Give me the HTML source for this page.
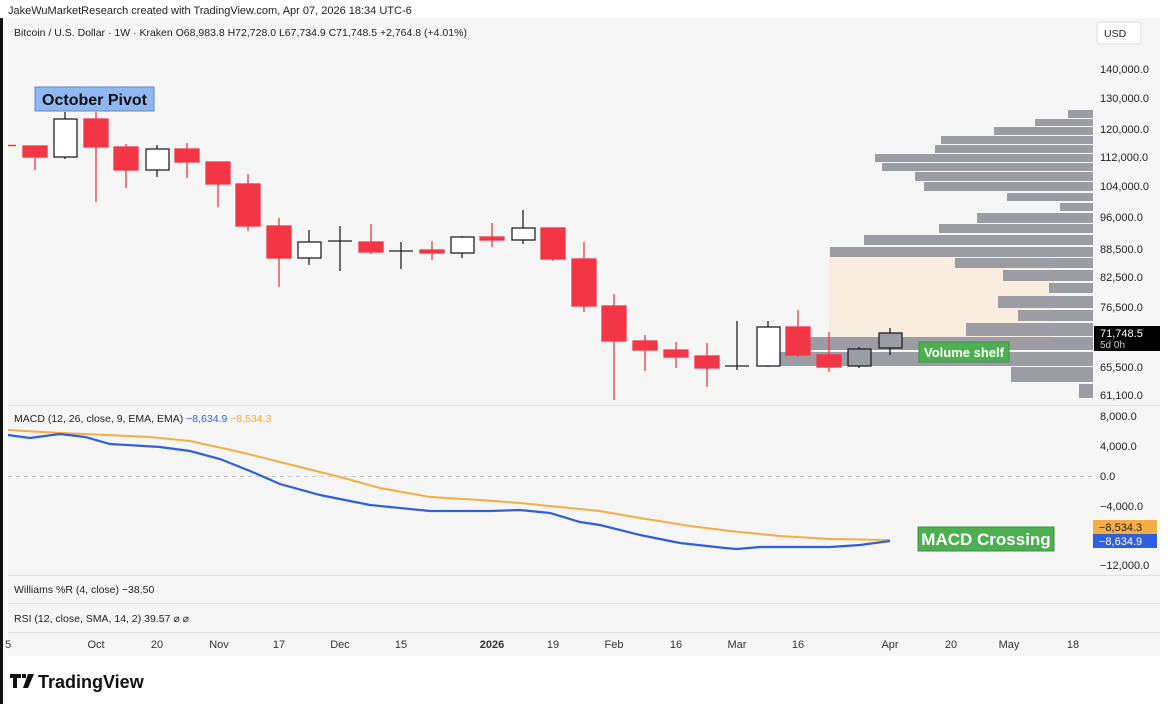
<!DOCTYPE html>
<html><head><meta charset="utf-8"><style>
html,body{margin:0;padding:0;background:#fff;width:1170px;height:704px;overflow:hidden}
svg{display:block}
text{font-family:"Liberation Sans",sans-serif}
</style></head><body>
<svg width="1170" height="704" viewBox="0 0 1170 704" xmlns="http://www.w3.org/2000/svg">
<rect x="0" y="0" width="1170" height="704" fill="#fff"/>
<rect x="0" y="18" width="3" height="686" fill="#111"/>
<text x="8" y="14" font-size="11" fill="#222">JakeWuMarketResearch created with TradingView.com, Apr 07, 2026 18:34 UTC-6</text>
<rect x="8" y="18" width="1152" height="638" fill="#f6f6f7"/>
<text x="14" y="36" font-size="10.5" fill="#222">Bitcoin / U.S. Dollar · 1W · Kraken  O68,983.8  H72,728.0  L67,734.9  C71,748.5  +2,764.8 (+4.01%)</text>
<rect x="1097" y="22" width="44" height="22" rx="3" fill="#fff" stroke="#ddd"/>
<text x="1104" y="37" font-size="10.5" fill="#222">USD</text>
<!-- separators -->
<g stroke="#e0e0e3" stroke-width="1">
<line x1="8" y1="405.5" x2="1160" y2="405.5"/>
<line x1="8" y1="575.5" x2="1160" y2="575.5"/>
<line x1="8" y1="603.5" x2="1160" y2="603.5"/>
<line x1="8" y1="632.5" x2="1160" y2="632.5"/>
</g>
<!-- beige zone -->
<rect x="829" y="247" width="225" height="90" fill="#f8eddf"/>
<!-- volume profile -->
<g fill="#9c9ca4">
<rect x="1068" y="110" width="25" height="8"/>
<rect x="1035" y="119" width="58" height="7"/>
<rect x="994" y="127" width="99" height="8"/>
<rect x="941" y="136" width="152" height="8"/>
<rect x="935" y="145" width="158" height="8"/>
<rect x="875" y="154" width="218" height="8"/>
<rect x="882" y="163" width="211" height="8"/>
<rect x="915" y="172" width="178" height="9"/>
<rect x="924" y="182" width="169" height="9"/>
<rect x="1007" y="193" width="86" height="8"/>
<rect x="1060" y="203" width="33" height="8"/>
<rect x="977" y="213" width="116" height="10"/>
<rect x="939" y="224" width="154" height="9"/>
<rect x="864" y="235" width="229" height="10"/>
<rect x="830" y="247" width="263" height="10"/>
<rect x="955" y="258" width="138" height="10"/>
<rect x="1003" y="270" width="90" height="11"/>
<rect x="1049" y="283" width="44" height="10"/>
<rect x="998" y="296" width="95" height="12"/>
<rect x="1018" y="310" width="75" height="11"/>
<rect x="966" y="323" width="127" height="13"/>
<rect x="810" y="337" width="283" height="13"/>
<rect x="770" y="352" width="323" height="14"/>
<rect x="1011" y="367" width="82" height="15"/>
<rect x="1079" y="384" width="14" height="14"/>
</g>
<!-- candles -->
<line x1="8" y1="145.5" x2="16" y2="145.5" stroke="#f23645" stroke-width="1.5"/>
<g id="c"></g>
<g stroke-width="1.3">
<!-- red candles: wick then body -->
<g stroke="#f23645" fill="#f23645">
<line x1="35" y1="146" x2="35" y2="170"/><rect x="23" y="146" width="24" height="11"/>
<line x1="96" y1="112" x2="96" y2="202"/><rect x="84" y="119" width="24" height="28"/>
<line x1="126" y1="144" x2="126" y2="188"/><rect x="114" y="147" width="24" height="23"/>
<line x1="187" y1="143" x2="187" y2="178"/><rect x="175" y="149" width="24" height="13"/>
<line x1="218" y1="162" x2="218" y2="207"/><rect x="206" y="162" width="24" height="22"/>
<line x1="248" y1="174" x2="248" y2="231"/><rect x="236" y="184" width="24" height="42"/>
<line x1="279" y1="218" x2="279" y2="287"/><rect x="267" y="226" width="24" height="32"/>
<line x1="371" y1="224" x2="371" y2="254"/><rect x="359" y="242" width="24" height="10"/>
<line x1="432" y1="241" x2="432" y2="260"/><rect x="420" y="250" width="24" height="3"/>
<line x1="492" y1="223" x2="492" y2="247"/><rect x="480" y="237" width="24" height="3"/>
<line x1="553" y1="228" x2="553" y2="261"/><rect x="541" y="228" width="24" height="31"/>
<line x1="584" y1="242" x2="584" y2="312"/><rect x="572" y="259" width="24" height="47"/>
<line x1="614" y1="294" x2="614" y2="400"/><rect x="602" y="306" width="24" height="35"/>
<line x1="645" y1="335" x2="645" y2="371"/><rect x="633" y="341" width="24" height="9"/>
<line x1="676" y1="342" x2="676" y2="368"/><rect x="664" y="350" width="24" height="7"/>
<line x1="707" y1="343" x2="707" y2="387"/><rect x="695" y="356" width="24" height="12"/>
<line x1="798" y1="310" x2="798" y2="357"/><rect x="786" y="327" width="24" height="28"/>
<line x1="829" y1="332" x2="829" y2="372"/><rect x="817" y="355" width="24" height="12"/>
</g>
<g stroke="#222" fill="#fff">
<line x1="65" y1="112" x2="65" y2="159"/><rect x="54" y="119" width="23" height="38"/>
<line x1="157" y1="145" x2="157" y2="177"/><rect x="146" y="149" width="23" height="21"/>
<line x1="309" y1="230" x2="309" y2="265"/><rect x="298" y="242" width="23" height="16"/>
<line x1="340" y1="226" x2="340" y2="271"/><line x1="328" y1="241" x2="352" y2="241"/>
<line x1="401" y1="242" x2="401" y2="269"/><line x1="389" y1="251" x2="413" y2="251"/>
<line x1="462" y1="236" x2="462" y2="258"/><rect x="451" y="237" width="23" height="16"/>
<line x1="523" y1="210" x2="523" y2="244"/><rect x="512" y="228" width="23" height="12"/>
<line x1="737" y1="321" x2="737" y2="370"/><line x1="725" y1="366" x2="749" y2="366"/>
<line x1="768" y1="321" x2="768" y2="367"/><rect x="757" y="327" width="23" height="39"/>
<line x1="859" y1="347" x2="859" y2="368"/><rect x="848" y="349" width="23" height="17" fill="#9c9ca4"/>
<line x1="890" y1="328" x2="890" y2="355"/><rect x="879" y="333" width="23" height="15" fill="#9c9ca4"/>
</g>
</g>
<!-- annotations -->
<rect x="35" y="87" width="119" height="24" fill="#8fb8f2" stroke="#5a87c8"/>
<text x="94.5" y="105" font-size="16" font-weight="bold" fill="#111" text-anchor="middle">October Pivot</text>
<rect x="919" y="342" width="90" height="20" fill="#4caf50" stroke="#3d9142"/>
<text x="964" y="357" font-size="13" font-weight="bold" fill="#fff" text-anchor="middle">Volume shelf</text>
<!-- price axis -->
<g font-size="11" fill="#222">
<text x="1100" y="73">140,000.0</text>
<text x="1100" y="102">130,000.0</text>
<text x="1100" y="133">120,000.0</text>
<text x="1100" y="161">112,000.0</text>
<text x="1100" y="190">104,000.0</text>
<text x="1100" y="221">96,000.0</text>
<text x="1100" y="253">88,500.0</text>
<text x="1100" y="281">82,500.0</text>
<text x="1100" y="311">76,500.0</text>
<text x="1100" y="371">65,500.0</text>
<text x="1100" y="399">61,100.0</text>
</g>
<rect x="1094" y="326" width="66" height="25" fill="#000"/>
<text x="1100" y="337" font-size="11" fill="#fff">71,748.5</text>
<text x="1100" y="348" font-size="10" fill="#ccc">5d 0h</text>
<!-- MACD -->
<text x="14" y="422" font-size="10.5" fill="#222">MACD (12, 26, close, 9, EMA, EMA) <tspan fill="#2962ff">−8,634.9</tspan> <tspan fill="#f7a73b">−8,534.3</tspan></text>
<line x1="8" y1="476.5" x2="1093" y2="476.5" stroke="#c8c8cc" stroke-dasharray="4,4"/>
<polyline fill="none" stroke="#f7ad45" stroke-width="2" points="8,430 60,433 85,434 150,437 190,441 240,452 300,467 340,477 380,488 430,497 480,500 520,503 560,507 600,511 640,518 690,526 730,531 780,536 830,539 890,540"/>
<polyline fill="none" stroke="#2f5fe0" stroke-width="2.2" points="8,435 30,438 60,434 85,437 110,444 160,447 190,451 220,459 250,471 280,484 320,495 370,505 430,511 490,511 520,510 550,513 580,522 600,525 640,535 680,543 725,548 737,549 760,547 800,547 830,547 860,545 890,541"/>
<rect x="918" y="527" width="136" height="24" fill="#4caf50" stroke="#3d9142"/>
<text x="986" y="545" font-size="17" font-weight="bold" fill="#fff" text-anchor="middle">MACD Crossing</text>
<g font-size="11" fill="#222">
<text x="1100" y="420">8,000.0</text>
<text x="1100" y="450">4,000.0</text>
<text x="1100" y="480">0.0</text>
<text x="1100" y="510">−4,000.0</text>
<text x="1100" y="569">−12,000.0</text>
</g>
<rect x="1093" y="520" width="64" height="14" fill="#f7ad45"/>
<text x="1099" y="531" font-size="11" fill="#222">−8,534.3</text>
<rect x="1093" y="534" width="64" height="14" fill="#2f5fe0"/>
<text x="1099" y="545" font-size="11" fill="#fff">−8,634.9</text>
<text x="14" y="593" font-size="10.5" fill="#222">Williams %R (4, close)  −38.50</text>
<text x="14" y="622" font-size="10.5" fill="#222">RSI (12, close, SMA, 14, 2)  39.57  ⌀  ⌀</text>
<!-- time axis -->
<g font-size="11" fill="#333" text-anchor="middle">
<text x="8" y="648">5</text>
<text x="96" y="648">Oct</text>
<text x="157" y="648">20</text>
<text x="219" y="648">Nov</text>
<text x="279" y="648">17</text>
<text x="340" y="648">Dec</text>
<text x="401" y="648">15</text>
<text x="492" y="648" font-weight="bold">2026</text>
<text x="553" y="648">19</text>
<text x="614" y="648">Feb</text>
<text x="676" y="648">16</text>
<text x="737" y="648">Mar</text>
<text x="798" y="648">16</text>
<text x="890" y="648">Apr</text>
<text x="951" y="648">20</text>
<text x="1009" y="648">May</text>
<text x="1073" y="648">18</text>
</g>
<!-- logo -->
<path d="M10 674h11v4h-4v10h-4v-10h-3z M22 674h4v4h-4z M28 674h6l-6 14h-5z" fill="#111"/>
<text x="38" y="688" font-size="18" font-weight="bold" fill="#111">TradingView</text>
</svg>
</body></html>
